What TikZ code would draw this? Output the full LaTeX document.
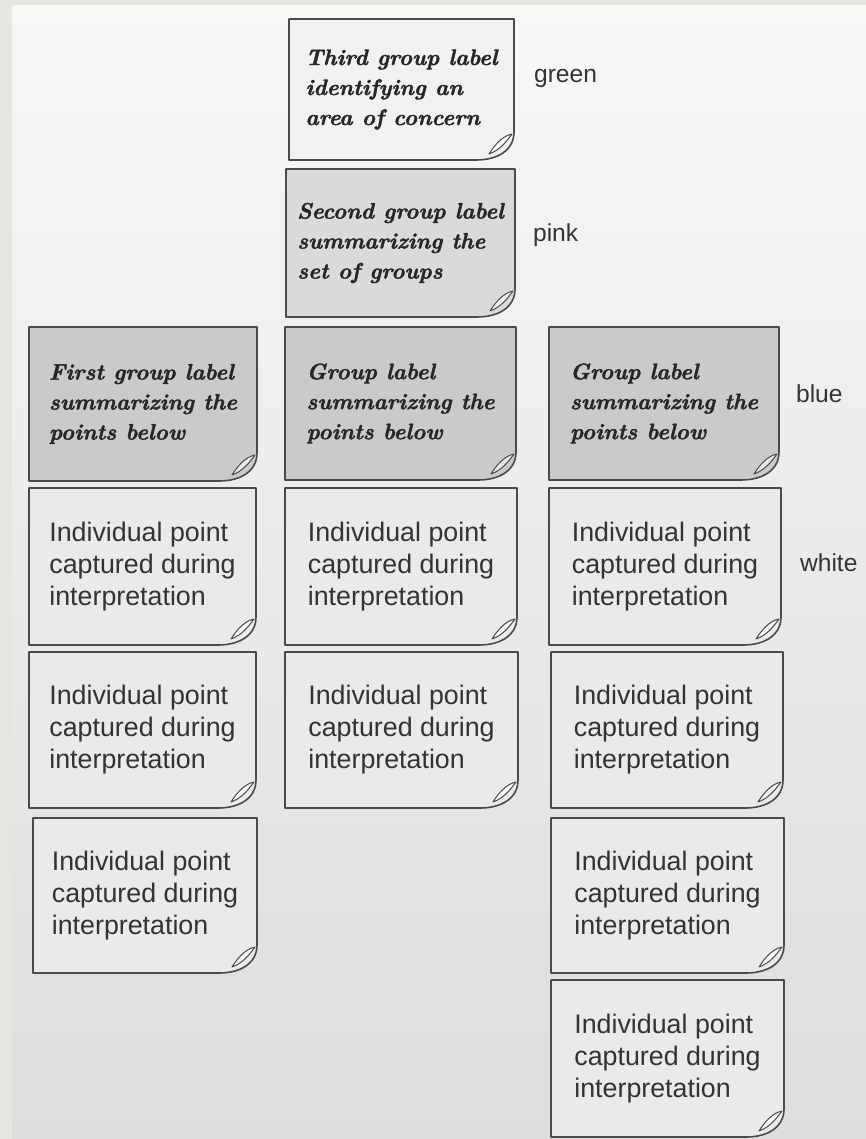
\documentclass[tikz,border=0pt]{standalone}
\usepackage{fontspec}
\newfontfamily\notesans{Liberation Sans}
\newfontfamily\groupscript[FakeBold=1.6]{Latin Modern Roman}
\definecolor{stripgreen}{HTML}{E3E7DE}
\definecolor{pagetop}{HTML}{F8F8F6}
\definecolor{pagebottom}{HTML}{DDDDDB}
\definecolor{inkline}{HTML}{4A4A4A}
\definecolor{greennote}{HTML}{F1F1EF}
\definecolor{pinknote}{HTML}{DADAD8}
\definecolor{bluenote}{HTML}{CACACA}
\definecolor{whitenote}{HTML}{EAEAE8}
\tikzset{
  noteline/.style={draw=inkline,line width=0.8pt,line join=round},
  grouptext/.style={align=left,text=black!85,font=\groupscript\fontsize{11.2}{15}\selectfont\bfseries\itshape},
  pointtext/.style={align=left,text=black!80,font=\notesans\fontsize{13.4}{16}\selectfont},
  colourlabel/.style={anchor=west,text=black!80,font=\notesans\fontsize{12.3}{14}\selectfont}
}
% sticky note: name, x1, y1, x2, y2, fill, text style, text
\newcommand{\stickynote}[8]{%
  \draw[noteline,fill=#6] (#2,#3) -- (#4,#3) -- (#4,#5-28)
    .. controls (#4,#5-10) and (#4-16,#5) .. (#4-38,#5) -- (#2,#5) -- cycle;
  \draw[noteline,line width=0.5pt,fill=white!60!#6] (#4-2,#5-26)
    .. controls (#4-12,#5-24) and (#4-20,#5-14) .. (#4-25,#5-6)
    .. controls (#4-14,#5-10) and (#4-8,#5-18) .. cycle;
  \node[#7] (#1) at ({(#2+#4)/2},{(#3+#5)/2}) {#8};
}
\begin{document}
\begin{tikzpicture}[x=0.5pt,y=-0.5pt]
  \useasboundingbox (0,0) rectangle (866,1139);
  % page
  \fill[stripgreen] (0,0) rectangle (866,1139);
  \shade[top color=pagetop,bottom color=pagebottom] (12,6) rectangle (866,1139);

  % upper labels
  \stickynote{third}{289}{19}{514}{160}{greennote}{grouptext}{Third group label\\identifying an\\area of concern}
  \stickynote{second}{286}{169}{515}{317}{pinknote}{grouptext}{Second group label\\summarizing the\\set of groups}

  % group labels
  \stickynote{groupA}{29}{327}{257}{481}{bluenote}{grouptext}{First group label\\summarizing the\\points below}
  \stickynote{groupB}{285}{327}{516}{480}{bluenote}{grouptext}{Group label\\summarizing the\\points below}
  \stickynote{groupC}{549}{327}{779}{480}{bluenote}{grouptext}{Group label\\summarizing the\\points below}

  % individual points
  \stickynote{ptA1}{29}{488}{256}{645}{whitenote}{pointtext}{Individual point\\captured during\\interpretation}
  \stickynote{ptA2}{29}{652}{256}{808}{whitenote}{pointtext}{Individual point\\captured during\\interpretation}
  \stickynote{ptA3}{33}{818}{257}{973}{whitenote}{pointtext}{Individual point\\captured during\\interpretation}
  \stickynote{ptB1}{285}{488}{517}{645}{whitenote}{pointtext}{Individual point\\captured during\\interpretation}
  \stickynote{ptB2}{285}{652}{518}{808}{whitenote}{pointtext}{Individual point\\captured during\\interpretation}
  \stickynote{ptC1}{549}{488}{781}{645}{whitenote}{pointtext}{Individual point\\captured during\\interpretation}
  \stickynote{ptC2}{551}{652}{783}{808}{whitenote}{pointtext}{Individual point\\captured during\\interpretation}
  \stickynote{ptC3}{551}{818}{784}{973}{whitenote}{pointtext}{Individual point\\captured during\\interpretation}
  \stickynote{ptC4}{551}{980}{784}{1137}{whitenote}{pointtext}{Individual point\\captured during\\interpretation}

  % colour names
  \node[colourlabel] (green) at (527,78) {green};
  \node[colourlabel] (pink) at (526,235) {pink};
  \node[colourlabel] (blue) at (789,394) {blue};
  \node[colourlabel] (white) at (793,563) {white};
\end{tikzpicture}
\end{document}
